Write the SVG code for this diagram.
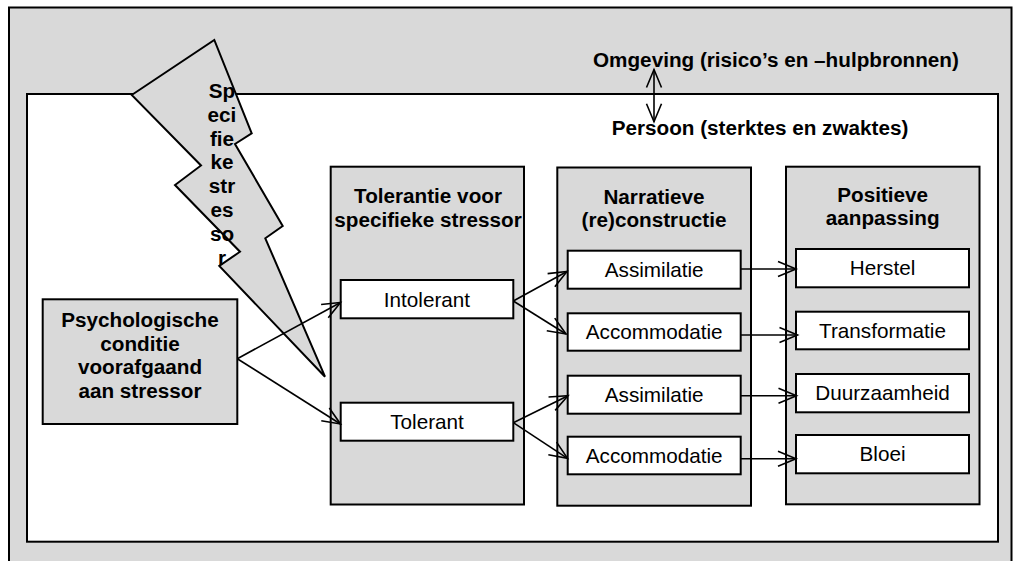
<svg xmlns="http://www.w3.org/2000/svg" width="1014" height="561" viewBox="0 0 1014 561">
<style>
.g{fill:#d9d9d9;stroke:#000;stroke-width:2}
.w{fill:#fff;stroke:#000;stroke-width:2}
.t{font-family:"Liberation Sans",Arial,Helvetica,sans-serif;font-size:20.7px;fill:#000;text-anchor:middle}
.b{font-weight:bold}
.l{text-anchor:start}
.c{fill:none;stroke:#000;stroke-width:1.6}
</style>
<defs>
<marker id="ah" markerUnits="userSpaceOnUse" viewBox="0 0 20 16" markerWidth="20" markerHeight="16" refX="19" refY="8" orient="auto-start-reverse" overflow="visible">
<path d="M1,0.5 L19,8 L1,15.5" fill="none" stroke="#000" stroke-width="1.6"/>
</marker>
</defs>
<rect width="1014" height="561" fill="#fff"/>
<g id="omgeving">
<rect class="g" x="9" y="7.5" width="1002.5" height="570"/>
<text class="t b l" x="593" y="66.7">Omgeving (risico’s en –hulpbronnen)</text>
</g>
<g id="persoon">
<rect class="w" x="27" y="94" width="971" height="447.7"/>
<text class="t b l" x="611.7" y="135">Persoon (sterktes en zwaktes)</text>
</g>
<g id="psychologische-conditie">
<rect class="g" x="42.7" y="299.3" width="194.6" height="124.7"/>
<text class="t b" x="140" y="326.7">Psychologische</text>
<text class="t b" x="140" y="350.5">conditie</text>
<text class="t b" x="140" y="374.3">voorafgaand</text>
<text class="t b" x="140" y="398.1">aan stressor</text>
</g>
<g id="tolerantie">
<rect class="g" x="330.7" y="166.7" width="193.3" height="337.8"/>
<text class="t b" x="428" y="202.7">Tolerantie voor</text>
<text class="t b" x="428" y="226.7">specifieke stressor</text>
</g>
<g id="narratieve">
<rect class="g" x="557.3" y="167.5" width="193.7" height="338.2"/>
<text class="t b" x="654" y="204">Narratieve</text>
<text class="t b" x="654" y="227.3">(re)constructie</text>
</g>
<g id="positieve">
<rect class="g" x="786" y="166.7" width="193.5" height="337.6"/>
<text class="t b" x="882.7" y="201.7">Positieve</text>
<text class="t b" x="882.7" y="225">aanpassing</text>
</g>
<g id="intolerant">
<rect class="w" x="340.7" y="280" width="172.6" height="38.3"/>
<text class="t" x="427" y="306.7">Intolerant</text>
</g>
<g id="tolerant">
<rect class="w" x="340.7" y="402.7" width="172.6" height="38"/>
<text class="t" x="427" y="429.2">Tolerant</text>
</g>
<g id="assimilatie-1">
<rect class="w" x="567.7" y="250.7" width="173" height="38"/>
<text class="t" x="654.2" y="276.9">Assimilatie</text>
</g>
<g id="accommodatie-1">
<rect class="w" x="567.7" y="313.3" width="173" height="37.4"/>
<text class="t" x="654.2" y="339.2">Accommodatie</text>
</g>
<g id="assimilatie-2">
<rect class="w" x="567.7" y="375.7" width="173" height="38"/>
<text class="t" x="654.2" y="401.9">Assimilatie</text>
</g>
<g id="accommodatie-2">
<rect class="w" x="567.7" y="436.7" width="173" height="37.6"/>
<text class="t" x="654.2" y="462.7">Accommodatie</text>
</g>
<g id="herstel">
<rect class="w" x="796" y="249" width="173" height="38.3"/>
<text class="t" x="882.5" y="275.3">Herstel</text>
</g>
<g id="transformatie">
<rect class="w" x="796" y="311.7" width="173" height="37.6"/>
<text class="t" x="882.5" y="337.7">Transformatie</text>
</g>
<g id="duurzaamheid">
<rect class="w" x="796" y="374" width="173" height="38.3"/>
<text class="t" x="882.5" y="400.3">Duurzaamheid</text>
</g>
<g id="bloei">
<rect class="w" x="796" y="435" width="173" height="38.3"/>
<text class="t" x="882.5" y="461.3">Bloei</text>
</g>
<g id="specifieke-stressor">
<polygon class="g" points="131.7,95 214.3,40 251.7,133.3 235,144 282.7,226 265.3,238.3 325,376.7 219.3,266 240,251.7 175,185 201,165.5"/>
<text class="t b" x="222" y="98.3">Sp</text>
<text class="t b" x="222" y="122">eci</text>
<text class="t b" x="222" y="145.7">fie</text>
<text class="t b" x="222" y="169.3">ke</text>
<text class="t b" x="222" y="193">str</text>
<text class="t b" x="222" y="216.7">es</text>
<text class="t b" x="222" y="240.5">so</text>
<text class="t b" x="222" y="265">r</text>
</g>
<g id="connectors">
<line class="c" x1="654" y1="69.5" x2="654" y2="121.7" marker-start="url(#ah)" marker-end="url(#ah)"/>
<line class="c" x1="237.3" y1="358.7" x2="340.5" y2="302.5" marker-end="url(#ah)"/>
<line class="c" x1="237.3" y1="358.7" x2="340.5" y2="424" marker-end="url(#ah)"/>
<line class="c" x1="513.3" y1="301" x2="567" y2="271.5" marker-end="url(#ah)"/>
<line class="c" x1="513.3" y1="301" x2="566" y2="334" marker-end="url(#ah)"/>
<line class="c" x1="513.3" y1="422.7" x2="568" y2="395.7" marker-end="url(#ah)"/>
<line class="c" x1="513.3" y1="422.7" x2="567.5" y2="458.3" marker-end="url(#ah)"/>
<line class="c" x1="740.7" y1="269" x2="796" y2="269" marker-end="url(#ah)"/>
<line class="c" x1="740.7" y1="335" x2="797.5" y2="335" marker-end="url(#ah)"/>
<line class="c" x1="740.7" y1="395.7" x2="796.5" y2="395.7" marker-end="url(#ah)"/>
<line class="c" x1="740.7" y1="458.7" x2="796" y2="458.7" marker-end="url(#ah)"/>
</g>
</svg>
